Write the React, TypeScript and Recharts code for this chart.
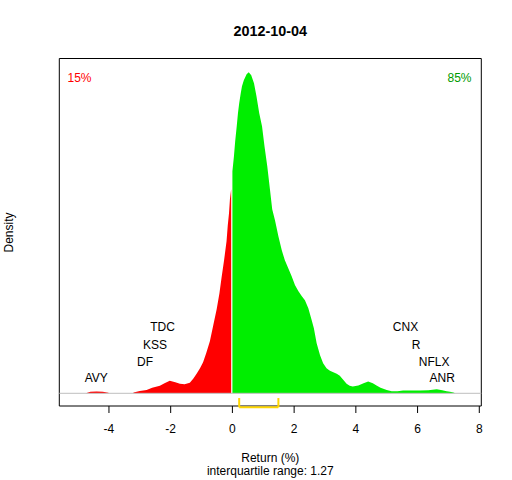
import React from 'react';
import {
  ComposedChart,
  Area,
  XAxis,
  YAxis,
  ReferenceLine,
  ReferenceArea,
  ReferenceDot,
} from 'recharts';

// ---- data ----
const TITLE = '2012-10-04';

// left (negative) part of the density curve
const RED_X = [-4.75, -4.6, -4.4, -4.2, -4.02, -4.0, -3.22, -3.2, -3.0, -2.78, -2.6, -2.35, -2.2, -2.03, -1.85, -1.7, -1.55, -1.38, -1.27, -1.16, -1.05, -0.95, -0.85, -0.73, -0.62, -0.51, -0.42, -0.35, -0.27, -0.19, -0.15, -0.11, -0.08, -0.04];
const RED_D = [0, 0.003, 0.0035, 0.003, 0.001, 0, 0, 0.0015, 0.0045, 0.0065, 0.011, 0.015, 0.02, 0.025, 0.022, 0.019, 0.018, 0.021, 0.029, 0.039, 0.05, 0.062, 0.08, 0.104, 0.136, 0.168, 0.2, 0.232, 0.266, 0.304, 0.336, 0.36, 0.388, 0.408];

// right (positive) part of the density curve
const GREEN_X = [0.0, 0.05, 0.09, 0.14, 0.18, 0.22, 0.27, 0.31, 0.37, 0.46, 0.53, 0.61, 0.7, 0.78, 0.87, 0.96, 1.04, 1.13, 1.22, 1.29, 1.38, 1.49, 1.6, 1.7, 1.81, 1.92, 2.03, 2.14, 2.25, 2.35, 2.46, 2.57, 2.64, 2.73, 2.84, 2.94, 3.05, 3.16, 3.27, 3.38, 3.48, 3.59, 3.7, 3.8, 3.9, 4.08, 4.25, 4.4, 4.55, 4.67, 4.8, 4.89, 5.0, 5.16, 5.35, 5.53, 5.8, 6.08, 6.35, 6.62, 6.8, 6.94, 7.05, 7.16, 7.22];
const GREEN_D = [0.444, 0.474, 0.504, 0.534, 0.56, 0.58, 0.6, 0.614, 0.626, 0.638, 0.642, 0.636, 0.62, 0.594, 0.56, 0.534, 0.494, 0.454, 0.406, 0.368, 0.346, 0.314, 0.286, 0.266, 0.25, 0.234, 0.216, 0.204, 0.194, 0.186, 0.17, 0.146, 0.13, 0.1, 0.076, 0.06, 0.05, 0.045, 0.042, 0.039, 0.035, 0.027, 0.019, 0.015, 0.0135, 0.0155, 0.02, 0.0235, 0.02, 0.0155, 0.011, 0.009, 0.0065, 0.004, 0.004, 0.0055, 0.0055, 0.0055, 0.006, 0.008, 0.006, 0.004, 0.003, 0.0015, 0];

const X_TICKS = [-4, -2, 0, 2, 4, 6, 8];
const X_DOMAIN = [-5.609, 8.065];
const Y_DOMAIN = [-0.0254, 0.6696];

// interquartile range
const Q1 = 0.22;
const Q3 = 1.49;
const IQR_TEXT = 'interquartile range: 1.27';

// share of negative / positive
const PCT_NEG = '15%';
const PCT_POS = '85%';
const PCT_X = [-4.955, 7.359];
const PCT_Y = 0.6316;

// extreme tickers
const LEFT_NAMES = ['TDC', 'KSS', 'DF', 'AVY'];
const LEFT_X = [-2.265, -2.508, -2.832, -4.41];
const RIGHT_NAMES = ['CNX', 'R', 'NFLX', 'ANR'];
const RIGHT_X = [5.609, 5.949, 6.539, 6.8];
const NAME_Y = [0.1325, 0.0972, 0.063, 0.0315];

const FONT = '"Liberation Sans", Arial, Helvetica, sans-serif';

const data = [
  ...RED_X.map((x, i) => ({ x, red: RED_D[i], green: null as number | null })),
  ...GREEN_X.map((x, i) => ({ x, red: null as number | null, green: GREEN_D[i] })),
];

export default function App() {
  return (
    <div style={{ position: 'absolute', left: 0, top: 0, width: 512, height: 480, background: '#fff' }}>
      <ComposedChart
        width={512}
        height={480}
        data={data}
        margin={{ top: 58.5, right: 30.7, bottom: 44, left: 59.3 }}
      >
        <XAxis
          type="number"
          dataKey="x"
          domain={X_DOMAIN}
          allowDataOverflow
          ticks={X_TICKS}
          height={30}
          axisLine={false}
          tickSize={7}
          tickMargin={11}
          tickLine={{ stroke: '#000' }}
          tick={{ fill: '#000', fontSize: 12, fontFamily: FONT }}
        />
        <YAxis hide type="number" domain={Y_DOMAIN} allowDataOverflow />
        <Area
          type="linear"
          dataKey="red"
          stroke="none"
          fill="#FF0000"
          fillOpacity={1}
          baseValue={0}
          connectNulls={false}
          isAnimationActive={false}
          dot={false}
          activeDot={false}
        />
        <Area
          type="linear"
          dataKey="green"
          stroke="none"
          fill="#00EE00"
          fillOpacity={1}
          baseValue={0}
          connectNulls={false}
          isAnimationActive={false}
          dot={false}
          activeDot={false}
        />
        <ReferenceLine y={0} stroke="#BEBEBE" strokeWidth={1} ifOverflow="visible" />
        <ReferenceArea
          x1={X_DOMAIN[0]}
          x2={X_DOMAIN[1]}
          y1={Y_DOMAIN[0]}
          y2={Y_DOMAIN[1]}
          fill="none"
          fillOpacity={0}
          stroke="#000"
          strokeWidth={1}
          ifOverflow="visible"
        />
        <ReferenceLine
          segment={[{ x: Q1, y: -0.028 }, { x: Q3, y: -0.028 }]}
          stroke="#FFD700"
          strokeWidth={2}
          ifOverflow="visible"
        />
        <ReferenceLine
          segment={[{ x: Q1, y: -0.028 }, { x: Q1, y: -0.0095 }]}
          stroke="#FFD700"
          strokeWidth={2}
          ifOverflow="visible"
        />
        <ReferenceLine
          segment={[{ x: Q3, y: -0.028 }, { x: Q3, y: -0.0095 }]}
          stroke="#FFD700"
          strokeWidth={2}
          ifOverflow="visible"
        />
        <ReferenceDot
          x={PCT_X[0]}
          y={PCT_Y}
          r={0}
          fill="none"
          stroke="none"
          ifOverflow="visible"
          label={{ value: PCT_NEG, position: 'center', fill: '#FF0000', fontSize: 12, fontFamily: FONT }}
        />
        <ReferenceDot
          x={PCT_X[1]}
          y={PCT_Y}
          r={0}
          fill="none"
          stroke="none"
          ifOverflow="visible"
          label={{ value: PCT_POS, position: 'center', fill: '#009A00', fontSize: 12, fontFamily: FONT }}
        />
        {LEFT_NAMES.map((n, i) => (
          <ReferenceDot
            key={'l' + n}
            x={LEFT_X[i]}
            y={NAME_Y[i]}
            r={0}
            fill="none"
            stroke="none"
            ifOverflow="visible"
            label={{ value: n, position: 'center', fill: '#000', fontSize: 12, fontFamily: FONT }}
          />
        ))}
        {RIGHT_NAMES.map((n, i) => (
          <ReferenceDot
            key={'r' + n}
            x={RIGHT_X[i]}
            y={NAME_Y[i]}
            r={0}
            fill="none"
            stroke="none"
            ifOverflow="visible"
            label={{ value: n, position: 'center', fill: '#000', fontSize: 12, fontFamily: FONT }}
          />
        ))}
      </ComposedChart>
      <svg
        width={512}
        height={480}
        style={{ position: 'absolute', left: 0, top: 0, pointerEvents: 'none' }}
      >
        <text x={270.3} y={36.2} textAnchor="middle" fontFamily={FONT} fontSize={14.4} fontWeight="bold" fill="#000">
          {TITLE}
        </text>
        <text x={270.3} y={462} textAnchor="middle" fontFamily={FONT} fontSize={12} fill="#000">
          Return (%)
        </text>
        <text x={270.3} y={474.5} textAnchor="middle" fontFamily={FONT} fontSize={12} fill="#000">
          {IQR_TEXT}
        </text>
        <text
          x={13}
          y={232.5}
          textAnchor="middle"
          fontFamily={FONT}
          fontSize={12}
          fill="#000"
          transform="rotate(-90 13 232.5)"
        >
          Density
        </text>
      </svg>
    </div>
  );
}
